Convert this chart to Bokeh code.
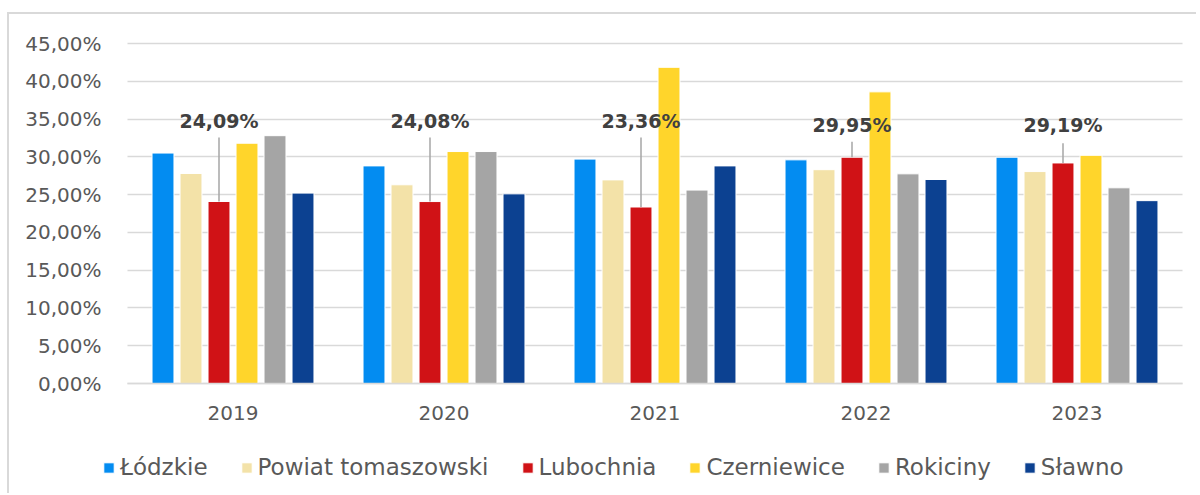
from bokeh.plotting import figure
from bokeh.models import (Range1d, FixedTicker, Legend, LegendItem, ColumnDataSource)
from bokeh.transform import dodge
from bokeh.embed import file_html
from bokeh.resources import INLINE
from bokeh.core.properties import value

# ---------------- data ----------------
years = ["2019", "2020", "2021", "2022", "2023"]
series = ["Łódzkie", "Powiat tomaszowski", "Lubochnia", "Czerniewice", "Rokiciny", "Sławno"]
lodzkie = [30.50, 28.80, 29.70, 29.60, 29.95]
powiat_tomaszowski = [27.80, 26.30, 26.95, 28.30, 28.05]
lubochnia = [24.09, 24.08, 23.36, 29.95, 29.19]
czerniewice = [31.80, 30.70, 41.85, 38.60, 30.20]
rokiciny = [32.80, 30.70, 25.60, 27.75, 25.90]
slawno = [25.20, 25.10, 28.80, 27.00, 24.20]
y_ticks = [0, 5, 10, 15, 20, 25, 30, 35, 40, 45]
y_tick_labels = ["0,00%", "5,00%", "10,00%", "15,00%", "20,00%",
                 "25,00%", "30,00%", "35,00%", "40,00%", "45,00%"]

# ---------------- styling / layout ----------------
colors = ["#038CF1", "#F3E2A8", "#D01216", "#FFD52B", "#A5A5A5", "#0C4191"]
label_y = [34.8, 34.8, 34.8, 34.27, 34.27]      # placement of the data labels
leader_top = [32.55, 32.55, 32.55, 32.0, 31.8]  # top end of leader lines
FONT = "DejaVu Sans"
TXT = "#595959"
GRID = "#d9d9d9"

# pixel layout of the frame (canvas starts at page x=9, y=14)
CANVAS_W, CANVAS_H = 1189, 481
FRAME_L, FRAME_R, FRAME_T, FRAME_B = 20, 1196, 16, 490   # page px
PLOT_L, PLOT_R = 127, 1182                               # category area
TOP_Y, ZERO_Y = 43, 383                                  # page px of 45% and 0%
Y_TOP = 45
n = len(years)
px_per_x = (PLOT_R - PLOT_L) / n
px_per_y = (ZERO_Y - TOP_Y) / Y_TOP
x_min = -0.5 - (PLOT_L - FRAME_L) / px_per_x
x_max = -0.5 + (FRAME_R - PLOT_L) / px_per_x
y_min = -(FRAME_B - ZERO_Y) / px_per_y
y_max = Y_TOP + (TOP_Y - FRAME_T) / px_per_y

xpos = list(range(n))
values = [lodzkie, powiat_tomaszowski, lubochnia, czerniewice, rokiciny, slawno]
cols = ["s%d" % i for i in range(len(series))]
data = {"x": xpos, "year": years}
for c, v in zip(cols, values):
    data[c] = v
src = ColumnDataSource(data)

p = figure(x_range=Range1d(x_min, x_max), y_range=Range1d(y_min, y_max),
           width=CANVAS_W, height=CANVAS_H, output_backend="svg", toolbar_location=None,
           min_border_left=FRAME_L - 9, min_border_right=9 + CANVAS_W - FRAME_R,
           min_border_top=FRAME_T - 14, min_border_bottom=14 + CANVAS_H - FRAME_B)
p.styles = {"border-top": "2px solid #d9d9d9", "border-left": "2px solid #d9d9d9",
            "margin-top": "12px", "margin-left": "7px"}
p.outline_line_color = None
p.background_fill_color = "white"
p.border_fill_color = "white"

# horizontal grid lines, limited to the category area
p.xgrid.grid_line_color = None
ygrid = p.ygrid[0]
ygrid.ticker = FixedTicker(ticks=y_ticks)
if "cross_bounds" in ygrid.properties():
    ygrid.grid_line_color = GRID
    ygrid.grid_line_width = 1.5
    ygrid.cross_bounds = (-0.5, n - 0.5)
else:
    ygrid.grid_line_color = None
    p.segment(x0=[-0.5] * len(y_ticks), x1=[n - 0.5] * len(y_ticks), y0=y_ticks, y1=y_ticks,
              line_color=GRID, line_width=1.5)

step = 0.1327
bw = 0.104
offsets = [(i - 2.5) * step for i in range(len(series))]

renderers = []
for c, off, col in zip(cols, offsets, colors):
    r = p.vbar(x=dodge("x", off), top=c, width=bw, source=src,
               fill_color=col, line_color="white", line_width=1)
    renderers.append(r)

# data labels for Lubochnia
lab_src = ColumnDataSource({
    "x": xpos,
    "val": lubochnia,
    "label_y": label_y,
    "top": leader_top,
    "label": [("%.2f" % v).replace(".", ",") + "%" for v in lubochnia],
})
red_off = offsets[2]
p.segment(x0=dodge("x", red_off), y0="val", x1=dodge("x", red_off), y1="top",
          source=lab_src, line_color="#a6a6a6", line_width=1.5)
p.text(x=dodge("x", red_off), y="label_y", text="label",
       source=lab_src, text_font=value(FONT), text_font_style="bold",
       text_font_size="19px", text_color="#404040", text_align="center",
       text_baseline="middle")

# axes
p.yaxis.ticker = FixedTicker(ticks=y_ticks)
p.yaxis.major_label_overrides = {t: l for t, l in zip(y_ticks, y_tick_labels)}
p.yaxis.fixed_location = -0.5
p.yaxis.axis_line_color = None
p.yaxis.major_tick_line_color = None
p.yaxis.minor_tick_line_color = None
p.yaxis.major_label_standoff = 20
p.yaxis.major_label_text_font = FONT
p.yaxis.major_label_text_font_size = "20px"
p.yaxis.major_label_text_color = TXT

p.xaxis.ticker = FixedTicker(ticks=xpos)
p.xaxis.major_label_overrides = {i: y for i, y in zip(xpos, years)}
p.xaxis.fixed_location = 0
p.xaxis.bounds = (-0.5, n - 0.5)
p.xaxis.axis_line_color = GRID
p.xaxis.axis_line_width = 1.5
p.xaxis.major_tick_line_color = None
p.xaxis.minor_tick_line_color = None
p.xaxis.major_label_standoff = 16
p.xaxis.major_label_text_font = FONT
p.xaxis.major_label_text_font_size = "20px"
p.xaxis.major_label_text_color = TXT

legend = Legend(items=[LegendItem(label=s, renderers=[r]) for s, r in zip(series, renderers)],
                orientation="horizontal", location=(102 - FRAME_L, 10),
                glyph_width=13, glyph_height=13, label_standoff=5, spacing=32,
                padding=0, margin=0, border_line_color=None, background_fill_alpha=0,
                label_text_font=FONT, label_text_font_size="23px",
                label_text_color=TXT)
p.add_layout(legend)

open("out.html", "w").write(file_html(p, INLINE))
